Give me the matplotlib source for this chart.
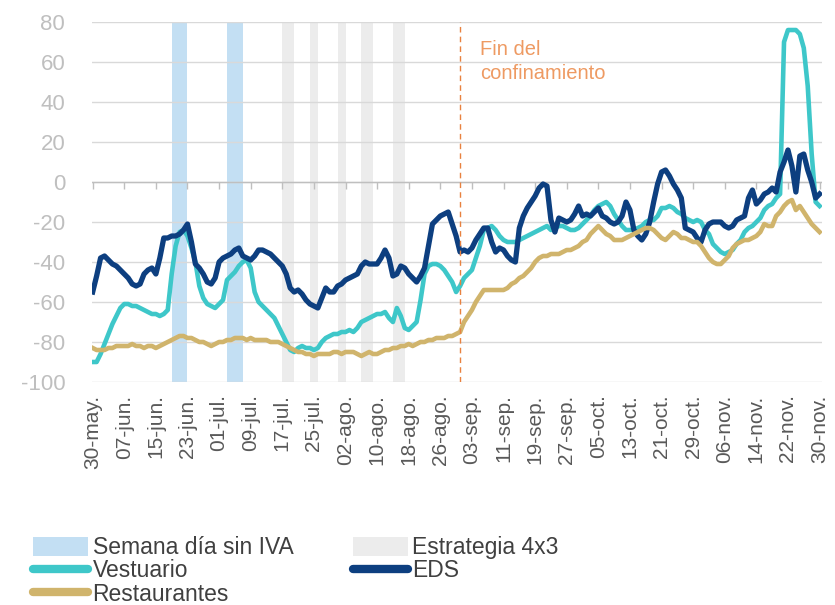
import numpy as np
import pandas as pd
import matplotlib
matplotlib.use("Agg")
import matplotlib.pyplot as plt
from matplotlib.patches import Patch
from matplotlib.lines import Line2D

plt.rcParams['font.family'] = ['Liberation Sans', 'DejaVu Sans']
plt.rcParams['axes.unicode_minus'] = False

# daily series, 30-may-2020 .. 30-nov-2020
start = "2020-05-30"
n_days = 185

eds = [
    -55, -47, -38, -37, -39, -41, -42, -44, -46, -48,
    -51, -52, -51, -46, -44, -43, -46, -38, -28, -28,
    -27, -27, -26, -24, -21, -30, -41, -43, -46, -50,
    -51, -48, -40, -38, -37, -36, -34, -33, -37, -38,
    -39, -37, -34, -34, -35, -36, -38, -40, -42, -46,
    -53, -55, -54, -56, -59, -61, -62, -63, -58, -53,
    -55, -55, -52, -51, -49, -48, -47, -46, -42, -40,
    -41, -41, -41, -38, -34, -38, -47, -46, -42, -43,
    -46, -48, -50, -47, -43, -32, -21, -19, -17, -16,
    -15, -21, -27, -35, -34, -35, -33, -29, -26, -23,
    -23, -30, -35, -33, -34, -37, -39, -40, -23, -17,
    -13, -10, -7, -3, -1, -2, -19, -25, -18, -19,
    -20, -19, -16, -12, -17, -16, -17, -15, -13, -17,
    -18, -20, -21, -20, -17, -10, -14, -24, -27, -29,
    -26, -20, -10, -1, 5, 6, 3, -1, -4, -8,
    -23, -24, -25, -28, -30, -24, -21, -20, -20, -20,
    -22, -23, -22, -19, -18, -17, -8, -4, -11, -9,
    -6, -5, -3, -5, 5, 10, 16, 8, -5, 13,
    14, 6, 0, -8, -6,
]

vestuario = [
    -90, -90, -86, -81, -76, -71, -67, -63, -61, -61,
    -62, -62, -63, -64, -65, -66, -66, -67, -66, -64,
    -46, -32, -25, -24, -27, -33, -40, -52, -58, -61,
    -62, -63, -61, -59, -49, -47, -45, -42, -40, -39,
    -43, -55, -60, -62, -64, -66, -68, -72, -76, -80,
    -84, -85, -83, -82, -83, -83, -84, -83, -80, -78,
    -77, -76, -76, -75, -75, -74, -75, -73, -70, -69,
    -68, -67, -66, -66, -65, -68, -70, -63, -67, -73,
    -74, -72, -70, -59, -46, -42, -41, -41, -42, -44,
    -47, -50, -55, -52, -48, -46, -44, -38, -32, -24,
    -23, -22, -24, -27, -29, -30, -30, -30, -29, -28,
    -27, -26, -25, -24, -23, -22, -24, -23, -22, -22,
    -23, -24, -24, -23, -21, -19, -17, -14, -12, -11,
    -10, -12, -16, -19, -22, -24, -24, -24, -23, -22,
    -20, -19, -19, -17, -13, -13, -12, -13, -15, -16,
    -18, -19, -20, -19, -20, -24, -26, -31, -33, -35,
    -36, -35, -34, -31, -29, -25, -23, -22, -20, -18,
    -14, -12, -11, -8, -6, 70, 76, 76, 76, 74,
    67, 48, 14, -10, -12,
]

restaurantes = [
    -83, -84, -84, -84, -83, -83, -82, -82, -82, -82,
    -81, -82, -82, -83, -82, -82, -83, -82, -81, -80,
    -79, -78, -77, -77, -78, -78, -79, -80, -80, -81,
    -82, -81, -80, -80, -79, -79, -78, -78, -78, -79,
    -78, -79, -79, -79, -79, -80, -80, -80, -81, -82,
    -83, -84, -85, -85, -86, -86, -87, -86, -86, -86,
    -86, -85, -85, -86, -85, -85, -85, -86, -87, -86,
    -85, -86, -86, -85, -84, -84, -83, -83, -82, -82,
    -81, -82, -81, -80, -80, -79, -79, -78, -78, -78,
    -77, -77, -76, -75, -70, -67, -64, -60, -57, -54,
    -54, -54, -54, -54, -54, -53, -51, -50, -48, -47,
    -45, -43, -40, -38, -37, -37, -36, -36, -36, -35,
    -34, -34, -33, -32, -30, -29, -26, -24, -22, -24,
    -26, -27, -29, -29, -29, -28, -27, -26, -25, -24,
    -23, -23, -24, -26, -28, -29, -27, -25, -26, -28,
    -28, -29, -30, -30, -32, -35, -38, -40, -41, -41,
    -39, -37, -33, -31, -30, -29, -29, -28, -27, -25,
    -21, -22, -22, -17, -15, -12, -10, -9, -14, -12,
    -15, -18, -21, -23, -25,
]

# shaded periods (start, end)
sin_iva = [("2020-06-19", "2020-06-23"), ("2020-07-03", "2020-07-07")]
estrategia_4x3 = [("2020-07-17", "2020-07-20"), ("2020-07-24", "2020-07-26"),
                  ("2020-07-31", "2020-08-02"), ("2020-08-06", "2020-08-09"),
                  ("2020-08-14", "2020-08-17")]
fin_confinamiento = "2020-08-31"

meses = {5: "may", 6: "jun", 7: "jul", 8: "ago", 9: "sep", 10: "oct", 11: "nov"}

dates = pd.date_range(start, periods=n_days, freq="D")
tick_dates = pd.date_range(start, periods=24, freq="8D")
tick_labels = [f"{d.day:02d}-{meses[d.month]}." for d in tick_dates]

c_vest = "#3EC7C9"
c_eds = "#0D3F80"
c_rest = "#D0B46C"
c_iva = "#C3DFF3"
c_4x3 = "#ECECEC"
c_orange = "#E8813F"

fig = plt.figure(figsize=(8.35, 6.05), dpi=100)
ax = fig.add_axes([0.1096, 0.3686, 0.8743, 0.595])

for a, b in sin_iva:
    ax.axvspan(pd.Timestamp(a), pd.Timestamp(b), color=c_iva, lw=0, zorder=0)
for a, b in estrategia_4x3:
    ax.axvspan(pd.Timestamp(a), pd.Timestamp(b), color=c_4x3, lw=0, zorder=0)

ax.set_ylim(-100, 80)
ax.set_yticks(np.arange(-100, 81, 20))
ax.yaxis.grid(True, color="#D9D9D9", lw=1, zorder=0.5)
ax.set_axisbelow(True)

ax.plot(dates, vestuario, color=c_vest, lw=3.3, zorder=3, solid_joinstyle="round")
ax.plot(dates, eds, color=c_eds, lw=3.8, zorder=4, solid_joinstyle="round")
ax.plot(dates, restaurantes, color=c_rest, lw=3.3, zorder=5, solid_joinstyle="round")

# zero axis line with tick marks
ax.axhline(0, color="#BFBFBF", lw=1, zorder=1)
ax.plot(tick_dates, np.zeros(len(tick_dates)), ls="none", marker=3, ms=5,
        mew=1, color="#BFBFBF", zorder=1, clip_on=False)

ax.axvline(pd.Timestamp(fin_confinamiento), color=c_orange, lw=1, ls=(0, (4, 3)), zorder=6)
ax.text(pd.Timestamp("2020-09-05"), 71, "Fin del\nconfinamiento", color="#EE9A62",
        fontsize=14.5, va="top", ha="left", linespacing=1.3)

ax.set_xlim(pd.Timestamp(start) - pd.Timedelta(hours=7), dates[-1] + pd.Timedelta(hours=12))
ax.set_xticks(tick_dates)
ax.set_xticklabels(tick_labels, rotation=90, fontsize=15, color="#595959")
ax.tick_params(axis="x", length=0, pad=9)
ax.tick_params(axis="y", length=0, pad=19, labelsize=16, labelcolor="#BFBFBF")
for s in ax.spines.values():
    s.set_visible(False)

handles = [
    Patch(facecolor=c_iva, edgecolor="none", label="Semana día sin IVA"),
    Line2D([], [], color=c_vest, lw=6, solid_capstyle="round", label="Vestuario"),
    Line2D([], [], color=c_rest, lw=6, solid_capstyle="round", label="Restaurantes"),
    Patch(facecolor=c_4x3, edgecolor="none", label="Estrategia 4x3"),
    Line2D([], [], color=c_eds, lw=6, solid_capstyle="round", label="EDS"),
]
fig.legend(handles=handles, ncol=2, loc="upper left", bbox_to_anchor=(33 / 835, 1 - 536 / 605),
           frameon=False, fontsize=16.5, labelcolor="#404040", handlelength=2.4,
           handleheight=0.9, handletextpad=0.2, labelspacing=0.02, columnspacing=2.6,
           borderpad=0, borderaxespad=0)

fig.savefig("out.png", dpi=100)
